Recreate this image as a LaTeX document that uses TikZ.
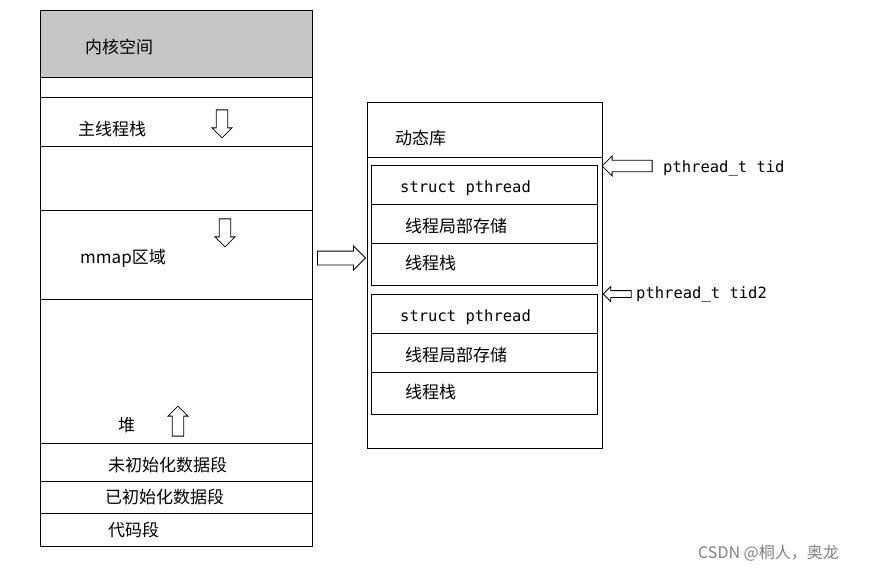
\documentclass[tikz,border=0pt]{standalone}
\usepackage{fontspec}
\setmainfont{Noto Sans CJK SC}
\setmonofont{DejaVu Sans Mono}
\usetikzlibrary{shapes.arrows}
\tikzset{
  lbl/.style={anchor=west,inner sep=0pt,font=\fontsize{17}{19}\selectfont},
  code/.style={anchor=west,inner sep=0pt,font=\ttfamily\fontsize{15.5}{18}\selectfont},
  blk/.style={single arrow,draw,thick,fill=white,minimum height=#1,minimum width=20pt,single arrow head extend=4pt,inner sep=5pt},
  blk/.default=30pt
}
\begin{document}
\begin{tikzpicture}[x=1pt,y=-1pt]
\useasboundingbox (0,0) rectangle (884,574);
%left column
\fill[gray!45] (40,10) rectangle (312,77);
\draw[thick] (40,10) rectangle (312,546);
\foreach \y in {77,97,146,210,299,443,481,513}
  \draw[thick] (40,\y) -- (312,\y);
\node[lbl] (kern) at (85,47) {内核空间};
\node[lbl] (mstack) at (78,129) {主线程栈};
\node[lbl] (mmap) at (80,258) {mmap区域};
\node[lbl] (heap) at (118,425) {堆};
\node[lbl] (bss) at (108,465) {未初始化数据段};
\node[lbl] (data) at (105,497) {已初始化数据段};
\node[lbl] (text) at (108,530) {代码段};
\node[blk=28pt,rotate=-90] (dn1) at (222,121) {};
\node[blk=28pt,rotate=-90] (dn2) at (225,230) {};
\node[blk=30pt,rotate=90] (up) at (178,424) {};
%right box
\draw[thick] (367,102) rectangle (602,448);
\draw[thick] (367,157) -- (602,157);
\node[lbl] (dyn) at (395,138) {动态库};
\foreach \t/\n in {165/a,294/b}{
  \draw[thick] (371,\t) rectangle (597,\t+120);
  \draw[thick] (371,\t+39) -- (597,\t+39);
  \draw[thick] (371,\t+78) -- (597,\t+78);
  \node[code] (pt\n) at (400,\t+23) {struct pthread};
  \node[lbl] (tls\n) at (405,\t+61) {线程局部存储};
  \node[lbl] (ts\n) at (405,\t+98) {线程栈};
}
\node[blk=48pt,minimum width=24pt] (map) at (338,258) {};
\node[blk=50pt,rotate=180] (tid) at (630,166) {};
\node[code] (tidl) at (663,168) {pthread\_t tid};
\node[blk=28pt,rotate=180,minimum width=14pt,inner sep=3pt] (tid2) at (619,294) {};
\node[code] (tid2l) at (636,294) {pthread\_t tid2};
\node[anchor=west,inner sep=0pt,gray,font=\fontsize{16}{18}\selectfont] (mark) at (698,553) {CSDN @桐人，奥龙};
\end{tikzpicture}
\end{document}
